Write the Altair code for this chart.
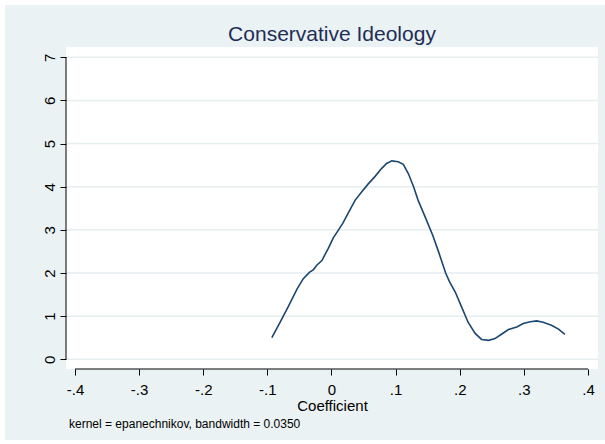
import altair as alt
import pandas as pd

# Kernel density estimate of the coefficient (Conservative Ideology)
coef = [-0.093, -0.080, -0.067, -0.054, -0.044, -0.034, -0.028, -0.023, -0.015, -0.005,
        0.003, 0.011, 0.018, 0.026, 0.037, 0.047, 0.057, 0.068, 0.078, 0.086,
        0.094, 0.104, 0.112, 0.120, 0.128, 0.135, 0.146, 0.158, 0.167, 0.178,
        0.184, 0.193, 0.203, 0.213, 0.224, 0.234, 0.245, 0.255, 0.265, 0.276,
        0.289, 0.299, 0.310, 0.320, 0.330, 0.343, 0.354, 0.364]
density = [0.50, 0.86, 1.23, 1.62, 1.87, 2.02, 2.08, 2.18, 2.29, 2.57,
           2.82, 3.00, 3.16, 3.39, 3.69, 3.88, 4.06, 4.24, 4.42, 4.54,
           4.60, 4.58, 4.52, 4.30, 4.00, 3.69, 3.30, 2.87, 2.49, 2.00,
           1.80, 1.56, 1.21, 0.86, 0.60, 0.46, 0.44, 0.48, 0.58, 0.69,
           0.75, 0.83, 0.87, 0.89, 0.86, 0.79, 0.70, 0.58]

x_ticks = [-0.4, -0.3, -0.2, -0.1, 0.0, 0.1, 0.2, 0.3, 0.4]
y_ticks = [0, 1, 2, 3, 4, 5, 6, 7]

title_text = "Conservative Ideology"
x_title = "Coefficient"
note_text = "kernel = epanechnikov, bandwidth = 0.0350"

X_DOMAIN = [-0.414, 0.4156]
Y_DOMAIN = [-0.225, 7.239]
W, H = 532, 322

FONT = "Liberation Sans"
BG = "#eaf2f3"
GRID = "#e6eef0"
LINE = "#1a476f"

df = pd.DataFrame({"coef": coef, "density": density})
grid_df = pd.DataFrame({"density": y_ticks})
yline_df = pd.DataFrame({"density": [min(y_ticks)], "density2": [max(y_ticks)]})
xline_df = pd.DataFrame({"coef": [min(x_ticks)], "coef2": [max(x_ticks)]})
one = pd.DataFrame({"k": [0]})

x_axis = alt.Axis(
    values=x_ticks, title=x_title, grid=False, domain=False,
    labelExpr="datum.value == 0 ? '0' : (datum.value < 0 ? '-' : '') + "
              "replace(format(abs(datum.value), '.1f'), '0.', '.')",
    labelFont=FONT, labelFontSize=15, labelColor="black", labelPadding=7,
    tickSize=6, tickColor="black", tickWidth=1,
    titleFont=FONT, titleFontSize=15, titleFontWeight="normal", titleColor="black",
    titleBaseline="alphabetic", titleY=41, zindex=1,
)
y_axis = alt.Axis(
    values=y_ticks, title=None, grid=False, domain=False, format="d",
    labelAngle=270, labelAlign="center", labelBaseline="alphabetic",
    labelFont=FONT, labelFontSize=15, labelColor="black", labelPadding=6,
    tickSize=6, tickColor="black", tickWidth=1, zindex=1,
)
xs = alt.Scale(domain=X_DOMAIN, nice=False, zero=False)
ys = alt.Scale(domain=Y_DOMAIN, nice=False, zero=False)

# outer graph region and white plot region
outer = alt.Chart(one).mark_rect(color=BG).encode(
    x=alt.value(-61), x2=alt.value(539), y=alt.value(-42), y2=alt.value(393)
)
inner = alt.Chart(one).mark_rect(color="white").encode(
    x=alt.value(0), x2=alt.value(W), y=alt.value(0), y2=alt.value(H)
)

grid = alt.Chart(grid_df).mark_rule(color=GRID, strokeWidth=1.5).encode(
    y=alt.Y("density:Q", scale=ys, axis=y_axis),
    x=alt.value(0), x2=alt.value(W),
)

y_line = alt.Chart(yline_df).mark_rule(color="black", strokeWidth=1).encode(
    y=alt.Y("density:Q", scale=ys, axis=y_axis), y2="density2:Q",
    x=alt.value(0),
)
x_line = alt.Chart(xline_df).mark_rule(color="black", strokeWidth=1).encode(
    x=alt.X("coef:Q", scale=xs, axis=x_axis), x2="coef2:Q",
    y=alt.value(H),
)

curve = alt.Chart(df).mark_line(color=LINE, strokeWidth=1.6).encode(
    x=alt.X("coef:Q", scale=xs, axis=x_axis),
    y=alt.Y("density:Q", scale=ys, axis=y_axis),
    order="coef:Q",
)

title = alt.Chart(one).mark_text(
    text=title_text, font=FONT, fontSize=21, color="#1f2d56",
    align="center", baseline="alphabetic",
).encode(x=alt.value(W / 2), y=alt.value(-6))

note = alt.Chart(one).mark_text(
    text=note_text, font=FONT, fontSize=12, color="black",
    align="left", baseline="alphabetic",
).encode(x=alt.value(3), y=alt.value(381))

chart = alt.layer(outer, inner, grid, y_line, x_line, curve, title, note).properties(
    width=W, height=H,
    autosize=alt.AutoSizeParams(type="none"),
    padding={"left": 66, "top": 47, "right": 7, "bottom": 75},
    background="white",
).configure_view(stroke=None)

chart.save("out.html", embed_options={"renderer": "svg", "actions": False})
